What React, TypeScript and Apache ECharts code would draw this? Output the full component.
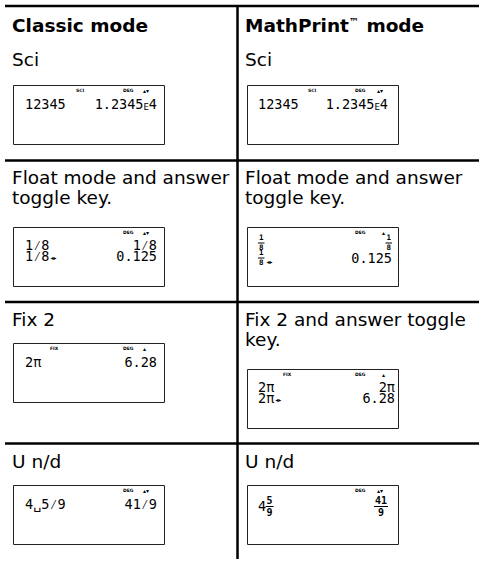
import React, { useEffect, useRef } from "react";
import * as echarts from "echarts";

const W = 479;
const H = 561;
const SANS = '"DejaVu Sans", "Liberation Sans", sans-serif';
const MONO = '"DejaVu Sans Mono", "Liberation Mono", monospace';

// ---- content ----
const columnHeads = ["Classic mode", "MathPrint™ mode"];
const classicLabels = [["Sci"], ["Float mode and answer", "toggle key."], ["Fix 2"], ["U n/d"]];
const mathPrintLabels = [["Sci"], ["Float mode and answer", "toggle key."], ["Fix 2 and answer toggle", "key."], ["U n/d"]];

const classicIndicators = [["SCI", "DEG", "▴▾"], ["DEG", "▴▾"], ["FIX", "DEG", "▴"], ["DEG", "▴▾"]];
const mathPrintIndicators = [["SCI", "DEG", "▴▾"], ["DEG", "▴"], ["FIX", "DEG", "▴"], ["DEG", "▴▾"]];

const classicEntries = [["12345"], ["1⁄8", "1⁄8◂▸"], ["2π"], ["4␣5⁄9"]];
const classicResults = [["1.2345E4"], ["1⁄8", "0.125"], ["6.28"], ["41⁄9"]];
const mathPrintEntries = [["12345"], ["1/8", "1/8◂▸"], ["2π", "2π◂▸"], ["4 5/9"]];
const mathPrintResults = [["1.2345E4"], ["1/8", "0.125"], ["2π", "6.28"], ["41/9"]];

// ---- layout ----
const rowLineY = [6, 160.5, 302, 443.5];
const dividerX = 237.5;
const textX = [12, 245];
const boxX = [13, 247];
const boxW = 151;
const boxH = 59;
const boxTops = [[85, 227, 343, 485], [85, 227, 369, 485]];
const labelBase = [65.7, 184.3, 325.7, 467.5];
const headBase = 32;
const LABEL_SIZE = 18.5;
const LCD_SIZE = 13.5;
const ADV = LCD_SIZE * 0.602;
const lineCenters = [
  [[19], [18, 29], [18.5], [19]],
  [[19], [15.5, 30.5], [18, 28.5], [21]],
];
const entryOff = [12, 11];
const resultOff = [[144, 144, 144, 144], [141, 145, 148, 141]];
const indOff = [
  { SCI: 63, FIX: 37, DEG: 110, "▴▾": 130, "▴": 130 },
  { SCI: 61, FIX: 36, DEG: 108, "▴▾": 130, "▴": 135 },
];

function buildGraphics() {
  const g: any[] = [];
  const line = (x1: number, y1: number, x2: number, y2: number, w = 2.5, c = "#000") =>
    g.push({ type: "line", silent: true, shape: { x1, y1, x2, y2 }, style: { stroke: c, lineWidth: w } });
  const text = (x: number, y: number, t: string, o: any = {}) =>
    g.push({
      type: "text",
      silent: true,
      x,
      y,
      style: {
        text: t,
        fill: o.fill || "#000",
        textAlign: o.align || "left",
        textVerticalAlign: "middle",
        fontSize: o.size || LABEL_SIZE,
        fontFamily: o.family || SANS,
        fontWeight: o.weight || "normal",
        ...(o.rich ? { rich: o.rich } : {}),
      },
    });

  // table rules
  rowLineY.forEach((y) => line(5, y, W, y));
  line(dividerX, 5, dividerX, 559);

  // headers (™ as a small superscript)
  columnHeads.forEach((h, c) => {
    if (h.includes("™")) {
      const [a, b] = h.split("™");
      text(textX[c], headBase - 6.5, `{a|${a}}{t|™}{a|${b}}`, {
        weight: "bold",
        rich: {
          a: { fontSize: LABEL_SIZE, fontFamily: SANS, fontWeight: "bold", fill: "#000" },
          t: { fontSize: 10, fontFamily: SANS, fontWeight: "bold", fill: "#000", verticalAlign: "top", padding: [0, 1, 6, 0] },
        },
      });
    } else {
      text(textX[c], headBase - 6.5, h, { weight: "bold" });
    }
  });

  // labels
  [classicLabels, mathPrintLabels].forEach((labels, c) => {
    labels.forEach((ls, r) => {
      ls.forEach((l, k) => text(textX[c], labelBase[r] + k * 20 - 6.5, l));
    });
  });

  const lcd = (x: number, y: number, s: string, align: string) => {
    let str = s;
    let toggle = false;
    if (str.endsWith("◂▸")) {
      toggle = true;
      str = str.slice(0, -2);
    }
    if (str.includes("E")) {
      const [a, b] = str.split("E");
      text(x, y, `{a|${a}}{e|E}{a|${b}}`, {
        align,
        family: MONO,
        size: LCD_SIZE,
        rich: {
          a: { fontSize: LCD_SIZE, fontFamily: MONO, fill: "#000" },
          e: { fontSize: 9, fontFamily: MONO, fill: "#000", verticalAlign: "bottom", padding: [3, 0, 0, 0] },
        },
      });
    } else {
      text(x, y, str, { align, family: MONO, size: LCD_SIZE });
    }
    if (toggle) {
      const tx = x + str.length * ADV + 1;
      text(tx, y + 1.5, "◂▸", { size: 6, family: SANS });
    }
  };

  const frac = (cx: number, cy: number, num: string, den: string, fs: number) => {
    const w = Math.max(num.length, den.length) * fs * 0.602 + 2;
    const off = fs * 0.5 + 1;
    text(cx, cy - off, num, { align: "center", family: MONO, size: fs, weight: "bold" });
    text(cx, cy + off + 0.5, den, { align: "center", family: MONO, size: fs, weight: "bold" });
    line(cx - w / 2, cy + 0.5, cx + w / 2, cy + 0.5, 1);
    return w;
  };

  const math = (x: number, y: number, s: string, align: string, fs: number) => {
    const m = s.match(/^(?:(\d+) )?(\d+)\/(\d+)(◂▸)?$/);
    if (!m) {
      lcd(x, y, s, align);
      return;
    }
    const [, whole, num, den, tog] = m;
    const fw = Math.max(num.length, den.length) * fs * 0.602 + 2;
    if (align === "right") {
      frac(x - fw / 2, y, num, den, fs);
      return;
    }
    let cx = x;
    if (whole) {
      text(x, y, whole, { family: MONO, size: LCD_SIZE });
      cx = x + whole.length * ADV - 0.5;
    }
    frac(cx + fw / 2, y, num, den, fs);
    if (tog) text(cx + fw + 2, y + 3.5, "◂▸", { size: 6, family: SANS });
  };

  for (let c = 0; c < 2; c++) {
    const inds = c === 0 ? classicIndicators : mathPrintIndicators;
    const ents = c === 0 ? classicEntries : mathPrintEntries;
    const ress = c === 0 ? classicResults : mathPrintResults;
    for (let r = 0; r < 4; r++) {
      const bx = boxX[c];
      const by = boxTops[c][r];
      g.push({
        type: "rect",
        silent: true,
        shape: { x: bx + 0.5, y: by + 0.5, width: boxW, height: boxH },
        style: { fill: "#fff", stroke: "#222", lineWidth: 1 },
      });
      inds[r].forEach((ind) => {
        const isArrow = ind.startsWith("▴");
        text(bx + (indOff[c] as any)[ind], by + 5, ind, {
          size: isArrow ? 6 : 4.5,
          family: SANS,
          weight: "bold",
        });
      });
      const centers = lineCenters[c][r];
      const fs = r === 1 ? 7.5 : 10;
      ents[r].forEach((e, k) => {
        const y = by + centers[k];
        if (c === 0) lcd(bx + entryOff[c], y, e, "left");
        else math(bx + entryOff[c], y, e, "left", fs);
      });
      ress[r].forEach((e, k) => {
        const y = by + centers[k];
        const rx = bx + resultOff[c][r];
        if (c === 0) lcd(rx, y, e, "right");
        else math(rx, y, e, "right", fs);
      });
    }
  }
  return g;
}

export default function App() {
  const ref = useRef<HTMLDivElement>(null);
  useEffect(() => {
    if (!ref.current) return;
    const chart = echarts.init(ref.current, undefined, { renderer: "svg", width: W, height: H });
    chart.setOption({
      animation: false,
      backgroundColor: "#fff",
      graphic: { elements: buildGraphics() },
    });
    return () => chart.dispose();
  }, []);
  return (
    <div
      ref={ref}
      style={{ position: "fixed", left: 0, top: 0, width: W, height: H, background: "#fff" }}
    />
  );
}
